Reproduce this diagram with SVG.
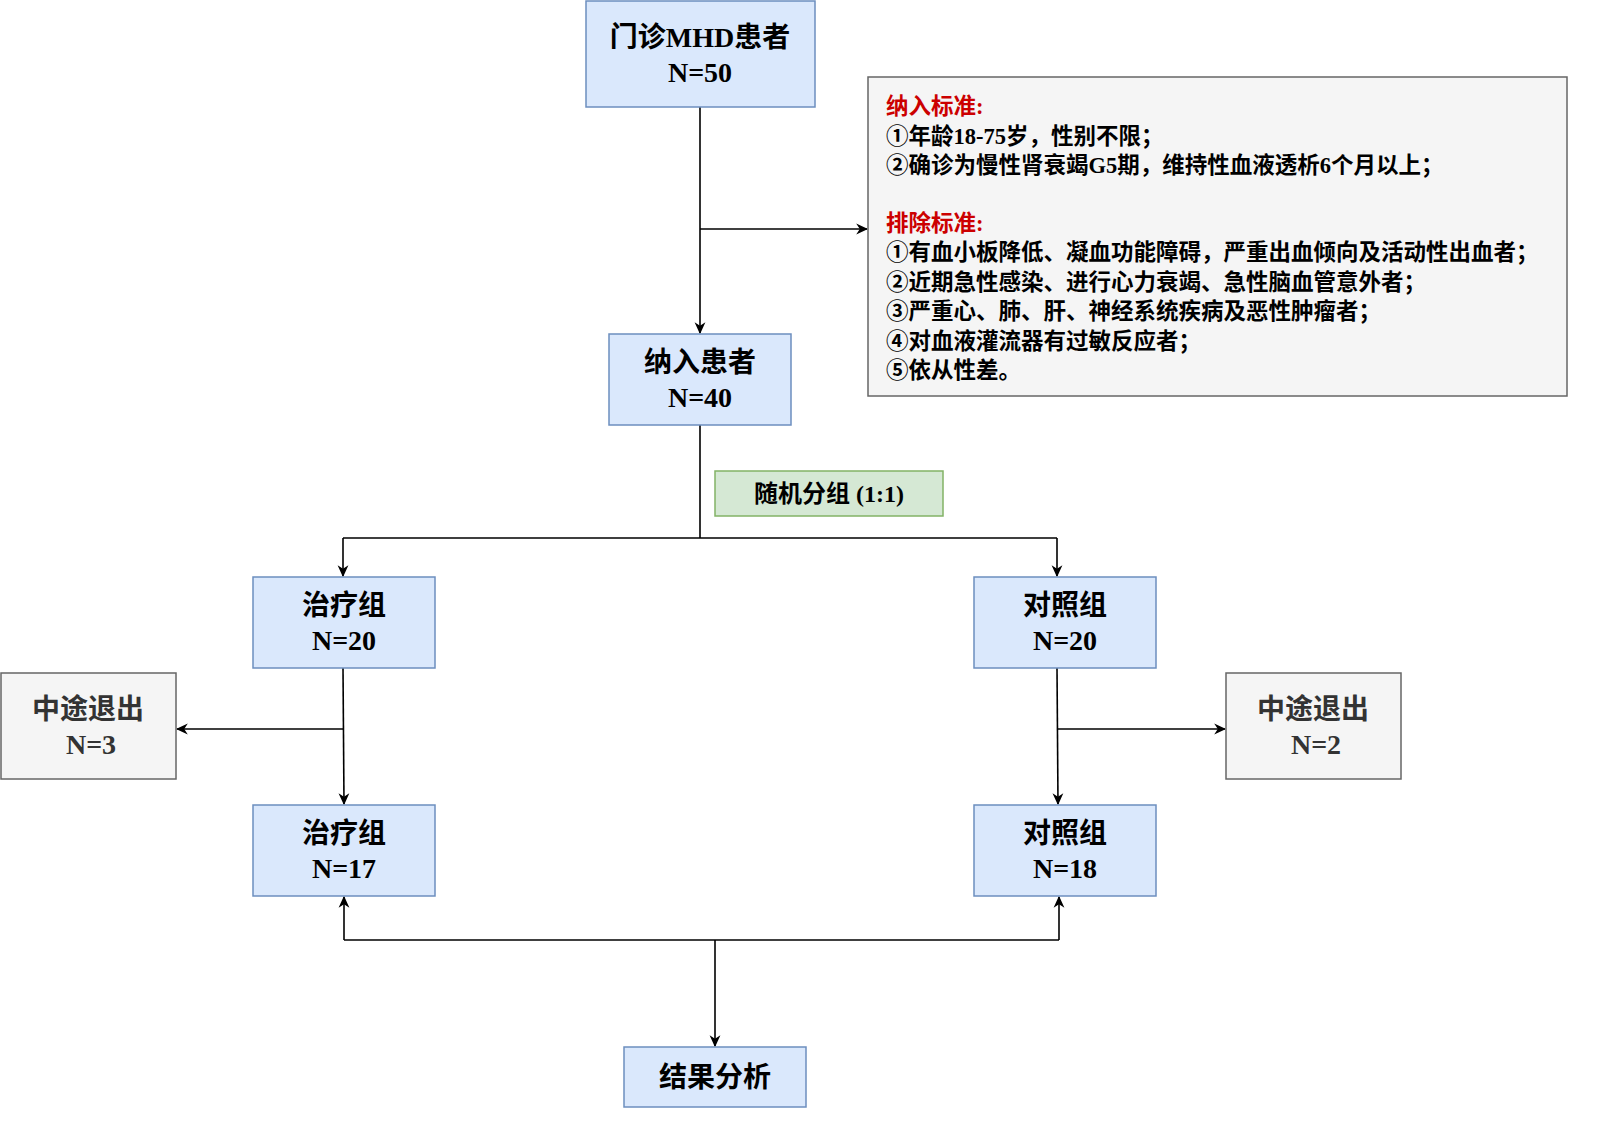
<svg xmlns="http://www.w3.org/2000/svg" width="1600" height="1132" viewBox="0 0 1600 1132">
<style>
.blue{fill:#dae8fc;stroke:#6c8ebf;stroke-width:1.5}
.grey{fill:#f5f5f5;stroke:#666666;stroke-width:1.5}
.green{fill:#d5e8d4;stroke:#82b366;stroke-width:1.5}
.t{font-family:"Liberation Serif","Noto Sans CJK SC",serif;font-weight:bold;font-size:28px;text-anchor:middle;fill:#000}
.tg{fill:#333333}
.c{font-family:"Liberation Serif","Noto Sans CJK SC",serif;font-weight:bold;font-size:22.5px;fill:#000}
.red{fill:#cc0000}
.ln{fill:none;stroke:#000;stroke-width:1.6}
</style>
<defs>
<marker id="ah" viewBox="0 0 10 10" refX="9" refY="5" markerWidth="12" markerHeight="12" markerUnits="userSpaceOnUse" orient="auto">
<path d="M0,0.5 L10,5 L0,9.5 L3,5 Z" fill="#000"/>
</marker>
</defs>
<rect width="1600" height="1132" fill="#ffffff"/>
<g id="connectors">
<path class="ln" d="M700,107 L700,333" marker-end="url(#ah)"/>
<path class="ln" d="M700,229 L867,229" marker-end="url(#ah)"/>
<path class="ln" d="M700,425 L700,538 M343,538 L1057,538"/>
<path class="ln" d="M343,538 L343,576" marker-end="url(#ah)"/>
<path class="ln" d="M1057,538 L1057,576" marker-end="url(#ah)"/>
<path class="ln" d="M343,668 L344,804" marker-end="url(#ah)"/>
<path class="ln" d="M343,729 L177,729" marker-end="url(#ah)"/>
<path class="ln" d="M1057,668 L1058,804" marker-end="url(#ah)"/>
<path class="ln" d="M1057,729 L1225,729" marker-end="url(#ah)"/>
<path class="ln" d="M344,940 L1059,940"/>
<path class="ln" d="M344,940 L344,897" marker-end="url(#ah)"/>
<path class="ln" d="M1059,940 L1059,897" marker-end="url(#ah)"/>
<path class="ln" d="M715,940 L715,1046" marker-end="url(#ah)"/>
</g>
<g id="n-mhd">
<rect class="blue" x="586" y="1" width="229" height="106"/>
<text class="t" x="700" y="47">门诊MHD患者</text>
<text class="t" x="700" y="82">N=50</text>
</g>
<g id="n-criteria">
<rect class="grey" x="868" y="77" width="699" height="319"/>
<text class="c red" x="886" y="114">纳入标准:</text>
<text class="c" x="886" y="144">①年龄18-75岁，性别不限；</text>
<text class="c" x="886" y="173">②确诊为慢性肾衰竭G5期，维持性血液透析6个月以上；</text>
<text class="c red" x="886" y="231">排除标准:</text>
<text class="c" x="886" y="260">①有血小板降低、凝血功能障碍，严重出血倾向及活动性出血者；</text>
<text class="c" x="886" y="290">②近期急性感染、进行心力衰竭、急性脑血管意外者；</text>
<text class="c" x="886" y="319">③严重心、肺、肝、神经系统疾病及恶性肿瘤者；</text>
<text class="c" x="886" y="349">④对血液灌流器有过敏反应者；</text>
<text class="c" x="886" y="378">⑤依从性差。</text>
</g>
<g id="n-include">
<rect class="blue" x="609" y="334" width="182" height="91"/>
<text class="t" x="700" y="372">纳入患者</text>
<text class="t" x="700" y="407">N=40</text>
</g>
<g id="n-random">
<rect class="green" x="715" y="471" width="228" height="45"/>
<text class="t" x="829" y="502" style="font-size:24px">随机分组 (1:1)</text>
</g>
<g id="n-treat20">
<rect class="blue" x="253" y="577" width="182" height="91"/>
<text class="t" x="344" y="615">治疗组</text>
<text class="t" x="344" y="650">N=20</text>
</g>
<g id="n-ctrl20">
<rect class="blue" x="974" y="577" width="182" height="91"/>
<text class="t" x="1065" y="615">对照组</text>
<text class="t" x="1065" y="650">N=20</text>
</g>
<g id="n-drop3">
<rect class="grey" x="1" y="673" width="175" height="106"/>
<text class="t tg" x="88" y="719">中途退出</text>
<text class="t tg" x="91" y="754">N=3</text>
</g>
<g id="n-drop2">
<rect class="grey" x="1226" y="673" width="175" height="106"/>
<text class="t tg" x="1313" y="719">中途退出</text>
<text class="t tg" x="1316" y="754">N=2</text>
</g>
<g id="n-treat17">
<rect class="blue" x="253" y="805" width="182" height="91"/>
<text class="t" x="344" y="843">治疗组</text>
<text class="t" x="344" y="878">N=17</text>
</g>
<g id="n-ctrl18">
<rect class="blue" x="974" y="805" width="182" height="91"/>
<text class="t" x="1065" y="843">对照组</text>
<text class="t" x="1065" y="878">N=18</text>
</g>
<g id="n-result">
<rect class="blue" x="624" y="1047" width="182" height="60"/>
<text class="t" x="715" y="1087">结果分析</text>
</g>
</svg>
